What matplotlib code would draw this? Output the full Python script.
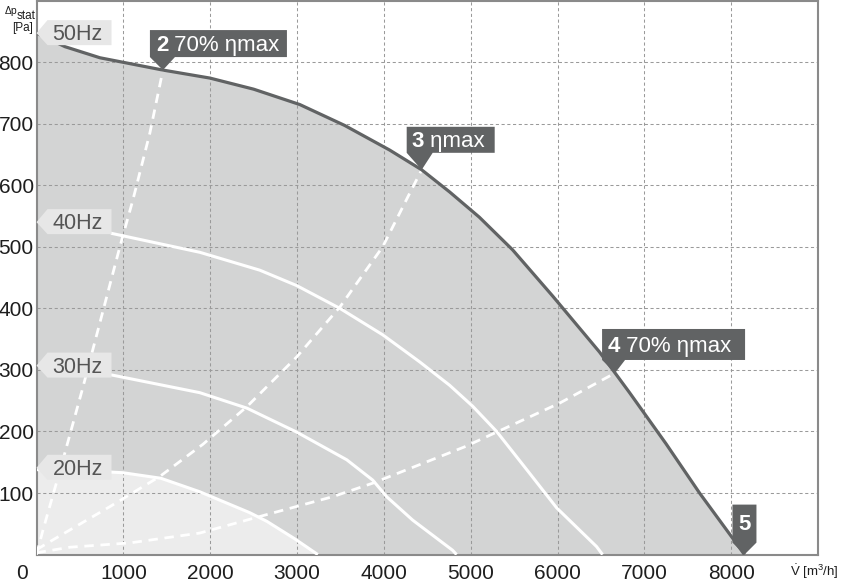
import matplotlib
matplotlib.use("Agg")
import matplotlib.pyplot as plt
from matplotlib.patches import Polygon
import matplotlib.transforms as mtransforms

plt.rcParams['font.family'] = ['Liberation Sans', 'DejaVu Sans']
plt.rcParams['mathtext.fontset'] = 'custom'
plt.rcParams['mathtext.rm'] = 'Liberation Sans'
plt.rcParams['mathtext.it'] = 'Liberation Sans:italic'
plt.rcParams['mathtext.bf'] = 'Liberation Sans:bold'

# ---------------- data (V in m3/h, p in Pa) ----------------
v_50 = [0, 328, 730, 1456, 1997, 2500, 3032, 3550, 4068, 4436, 4758, 5100, 5483, 5944, 6484, 6663, 6830, 7250, 7636, 8015, 8153]
p_50 = [847, 825, 807, 787, 774, 756, 731, 697, 657, 625, 589, 548, 495, 420, 329, 295, 263, 180, 100, 27, 0]

v_40 = [857, 1881, 2571, 2996, 3493, 3987, 4413, 4758, 5023, 5299, 5679, 5990, 6450, 6519]
p_40 = [522, 491, 462, 437, 400, 357, 313, 275, 241, 200, 132, 76, 13, 0]

v_30 = [857, 1881, 2421, 2996, 3573, 3872, 4033, 4332, 4792, 4838]
p_30 = [292, 263, 238, 199, 154, 121, 94, 56, 7, 0]

v_20 = [0, 857, 995, 1432, 1881, 2457, 2653, 2970, 3240]
p_20 = [138, 134, 133, 124, 102, 68, 54, 26, 0]

# system curves (dashed)
v_sys_a = [0, 75, 305, 535, 960, 1110, 1306, 1456]
p_sys_a = [0, 40, 154, 272, 500, 576, 685, 787]
v_sys_b = [0, 190, 846, 1421, 1915, 2421, 2996, 3493, 3987, 4298, 4436]
p_sys_b = [8, 24, 78, 127, 179, 240, 321, 402, 500, 587, 625]
v_sys_c = [0, 386, 1076, 1881, 2652, 3410, 3872, 4930, 6024, 6599, 6663]
p_sys_c = [3, 12, 19, 35, 65, 94, 116, 175, 246, 290, 295]

# operating points
op_v = [1456, 4436, 6663, 8153]
op_p = [787, 625, 295, 0]
op_num = ['2', '3', '4', '5']
op_text = [' 70% ηmax', ' ηmax', ' 70% ηmax', '']

hz_labels = ['50Hz', '40Hz', '30Hz', '20Hz']
hz_p = [847, 540, 307, 141]

x_ticks = [1000, 2000, 3000, 4000, 5000, 6000, 7000, 8000]
y_ticks = [100, 200, 300, 400, 500, 600, 700, 800]

# ---------------- figure ----------------
W, H, DPI = 847, 581, 100
fig = plt.figure(figsize=(W / DPI, H / DPI), dpi=DPI)
fig.patch.set_facecolor('white')
ax = fig.add_axes([36.5 / W, 1 - 554.6 / H, (818 - 36.5) / W, (554.6 - 0.5) / H])
ax.set_xlim(0, 9000)
ax.set_ylim(0, 900)
ax.set_axisbelow('line')

GRAY_FILL = '#d3d4d4'
LIGHT_FILL = '#ececec'
DARK = '#616364'
TXT = '#1e1e1e'

ax.fill_between(v_50, p_50, 0, color=GRAY_FILL, lw=0, zorder=1)
ax.fill_between(v_20, p_20, 0, color=LIGHT_FILL, lw=0, zorder=1.2)

ax.grid(True, color='#9a9a9a', lw=0.75, ls=(0, (3, 2.5)))

dash = (0, (3.4, 2.4))
for vv, pp in [(v_sys_a, p_sys_a), (v_sys_b, p_sys_b), (v_sys_c, p_sys_c)]:
    ax.plot(vv, pp, color='white', lw=2.0, ls=dash, zorder=3, dash_capstyle='butt',
            dash_joinstyle='round')

for vv, pp in [(v_40, p_40), (v_30, p_30), (v_20, p_20)]:
    ax.plot(vv, pp, color='white', lw=2.2, zorder=4, solid_capstyle='butt', solid_joinstyle='round')

ax.plot(v_50, p_50, color=DARK, lw=2.3, zorder=5, solid_capstyle='butt', solid_joinstyle='round')

# spines / ticks
for s in ax.spines.values():
    s.set_color('#8a8a8a')
    s.set_linewidth(1.5)
ax.set_xticks(x_ticks)
ax.set_yticks(y_ticks)
ax.set_xticklabels([str(t) for t in x_ticks])
ax.set_yticklabels([str(t) for t in y_ticks])
ax.tick_params(axis='both', length=0, labelsize=15, labelcolor=TXT)
ax.tick_params(axis='x', pad=6.5)
ax.tick_params(axis='y', pad=2.0)


def at(x, y):
    return mtransforms.Affine2D() + mtransforms.ScaledTranslation(x, y, ax.transData)


# corner "0"
ax.text(-14.5, -9.0, '0', transform=at(0, 0), ha='center', va='top', fontsize=15, color=TXT, clip_on=False)

# operating-point tags
tag_shapes = {
    '2': dict(poly=[(-13, 13), (0, 0), (12, 13), (124, 13), (124, 40), (-13, 40)], tx=-7, ty=19.5, ha='left'),
    '3': dict(poly=[(-15, 17), (0, 0), (11, 17), (73, 17), (73, 43), (-15, 43)], tx=-10, ty=22.5, ha='left'),
    '4': dict(poly=[(-13, 13), (0, 0), (10, 13), (130, 13), (130, 44), (-13, 44)], tx=-7.5, ty=20.5, ha='left'),
    '5': dict(poly=[(-12, 12), (0, 0), (12, 12), (12, 50), (-12, 50)], tx=0, ty=25, ha='center'),
}
for v, p, n, t in zip(op_v, op_p, op_num, op_text):
    sh = tag_shapes[n]
    tr = at(v, p)
    ax.add_patch(Polygon(sh['poly'], closed=True, transform=tr, facecolor=DARK, edgecolor='none',
                         zorder=10, clip_on=False))
    t1 = ax.text(sh['tx'], sh['ty'], n, transform=tr, ha=sh['ha'], va='baseline', fontsize=16,
                 fontweight='bold', color='white', zorder=11, clip_on=False)
    if t:
        ax.annotate(t, xy=(1, 0), xycoords=t1, ha='left', va='bottom', fontsize=16, color='white',
                    zorder=11, annotation_clip=False)

# frequency tags
hz_poly = [(0, 0), (11, 13), (75, 13), (75, -12), (11, -12)]
for lab, p in zip(hz_labels, hz_p):
    tr = at(0, p)
    ax.add_patch(Polygon(hz_poly, closed=True, transform=tr, facecolor='#e7e7e7', edgecolor='none',
                         zorder=10, clip_on=False))
    ax.text(16, -7.0, lab, transform=tr, ha='left', va='baseline', fontsize=15.5, color='#555555',
            zorder=11, clip_on=False)


# axis titles
def fx(px):
    return px / W


def fy(py):
    return 1 - py / H


fig.text(fx(17), fy(14), 'Δp', ha='right', va='baseline', fontsize=7.5, color=TXT)
fig.text(fx(17), fy(19), 'stat', ha='left', va='baseline', fontsize=8.5, color=TXT)
fig.text(fx(33), fy(31), '[Pa]', ha='right', va='baseline', fontsize=8.5, color=TXT)
fig.text(fx(790), fy(576), r'$\dot{\mathrm{V}}$ [m$^3$/h]', ha='left', va='baseline', fontsize=9.5, color=TXT)

fig.savefig('out.png', dpi=DPI, facecolor='white')
